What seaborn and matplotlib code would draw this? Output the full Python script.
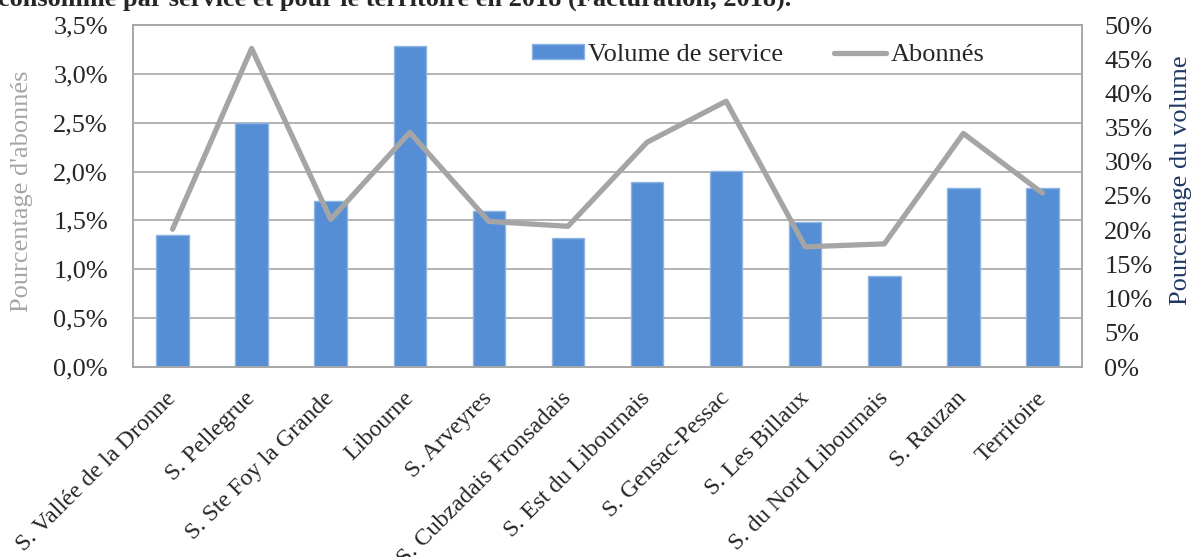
import numpy as np
import pandas as pd
import matplotlib
matplotlib.use("Agg")
import matplotlib.pyplot as plt
from matplotlib.ticker import FuncFormatter, MultipleLocator
from matplotlib.patches import Patch
from matplotlib.lines import Line2D
from matplotlib.transforms import ScaledTranslation
import seaborn as sns

# data
services = ["S. Vallée de la Dronne", "S. Pellegrue", "S. Ste Foy la Grande", "Libourne",
            "S. Arveyres", "S. Cubzadais Fronsadais", "S. Est du Libournais",
            "S. Gensac-Pessac", "S. Les Billaux", "S. du Nord Libournais", "S. Rauzan",
            "Territoire"]
volume_pct = [19.3, 35.7, 24.2, 46.9, 22.8, 18.9, 27.0, 28.7, 21.2, 13.3, 26.1, 26.1]
abonnes_pct = [1.41, 3.26, 1.51, 2.40, 1.49, 1.44, 2.30, 2.72, 1.23, 1.26, 2.39, 1.78]
title_txt = "consommé par service et pour le territoire en 2018 (Facturation, 2018)."

df = pd.DataFrame({"service": services, "volume": volume_pct, "abonnes": abonnes_pct})

sns.set_theme(style="white")
plt.rcParams["font.family"] = ["Liberation Serif", "DejaVu Serif"]

BLUE = "#558ED5"
GREY = "#A5A5A5"
AXC = "#A6A6A6"
FS = 19

W, H = 1200, 557
fig = plt.figure(figsize=(W / 100, H / 100), dpi=100)
ax = fig.add_axes([133 / W, 1 - 367 / H, (1082 - 133) / W, (367 - 25) / H])
ax2 = ax.twinx()  # line axis, on top of the bars

# bars: volume, right-hand scale
sns.barplot(data=df, x="service", y="volume", color=BLUE, width=0.41,
            edgecolor="#8DB4E2", linewidth=1, saturation=1, ax=ax)
ax.set_ylim(0, 50)
ax.set_xlim(-0.5, len(services) - 0.5)
ax.yaxis.tick_right()
ax.yaxis.set_label_position("right")
ax.yaxis.set_major_locator(MultipleLocator(5))
ax.yaxis.set_major_formatter(FuncFormatter(lambda v, p: f"{v:.0f}%"))
# gridlines follow the left scale (every 0,5 %)
ax.set_yticks(np.linspace(0, 50, 8), minor=True)
ax.grid(which="minor", axis="y", color=AXC, linewidth=1.2)
ax.grid(which="major", visible=False)
ax.set_axisbelow(True)
ax.tick_params(axis="y", which="both", length=0, labelsize=FS, pad=16,
               left=False, labelleft=False, right=False, labelright=True)
ax.set_ylabel("Pourcentage du volume", fontsize=FS, color="#203864")
ax.yaxis.set_label_coords(1.093, 0.547)
ax.set_xlabel("")
ax.tick_params(axis="x", length=0, labelsize=17.3, pad=15)
shift = ScaledTranslation(-7 / 100, 0, fig.dpi_scale_trans)
for lab in ax.get_xticklabels():
    lab.set_rotation(45)
    lab.set_ha("right")
    lab.set_rotation_mode("anchor")
    lab.set_transform(lab.get_transform() + shift)

# line: abonnés, left-hand scale
sns.lineplot(x=np.arange(len(services)), y=df["abonnes"], color=GREY, linewidth=3.8,
             ax=ax2, sort=False)
ax2.set_ylim(0, 3.5)
ax2.yaxis.tick_left()
ax2.yaxis.set_label_position("left")
ax2.yaxis.set_major_locator(MultipleLocator(0.5))
ax2.yaxis.set_major_formatter(FuncFormatter(lambda v, p: f"{v:.1f}%".replace(".", ",")))
ax2.tick_params(axis="y", length=0, labelsize=FS, pad=18,
                right=False, labelright=False)
ax2.set_ylabel("Pourcentage d'abonnés", fontsize=FS, color=GREY)
ax2.yaxis.set_label_coords(-0.105, 0.515)
ax2.grid(False)

for a in (ax, ax2):
    for s in a.spines.values():
        s.set_color(AXC)
        s.set_linewidth(1.2)

handles = [Patch(facecolor=BLUE, edgecolor="#8DB4E2"),
           Line2D([0], [0], color=GREY, linewidth=3.8)]
fig.legend(handles, ["Volume de service", "Abonnés"], loc="center",
           bbox_to_anchor=(758 / W, 1 - 55 / H), ncol=2, frameon=False,
           fontsize=FS, handlelength=2.0, handleheight=0.5, handletextpad=0.15,
           columnspacing=1.9)

fig.text(-0.002, 1 - 6 / H, title_txt, fontsize=FS, fontweight="bold", va="baseline")

fig.savefig("out.png", dpi=100)
